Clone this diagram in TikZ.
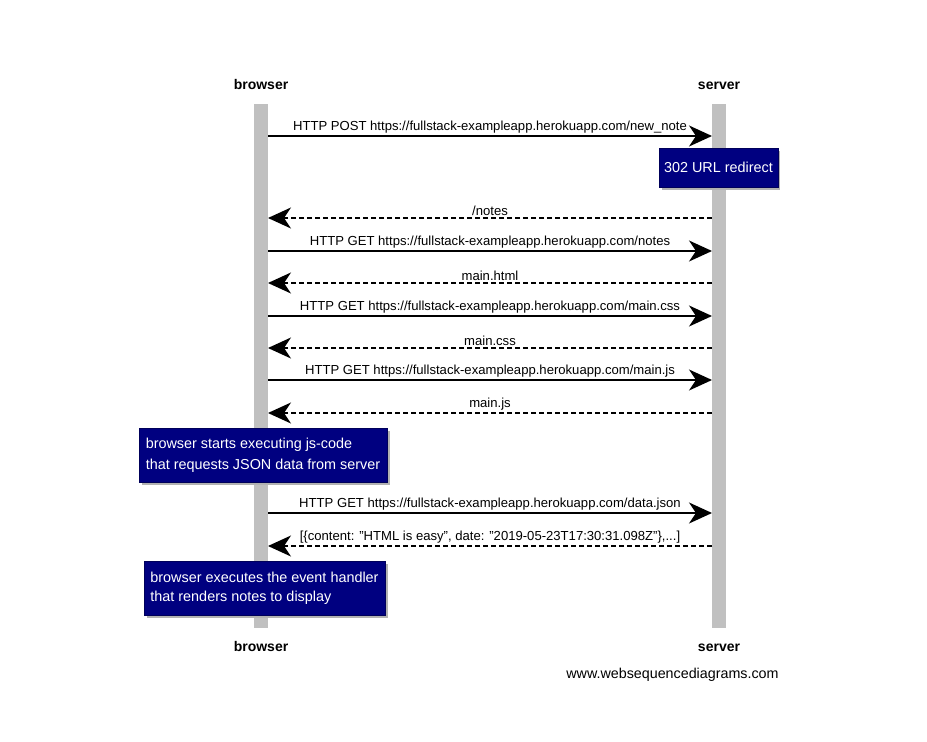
\documentclass[tikz,border=0pt]{standalone}
\usepackage{fontspec}
\setmainfont{Liberation Sans}
\usetikzlibrary{arrows.meta,shadows}
\definecolor{notefill}{HTML}{000080}
\definecolor{lifegray}{HTML}{C0C0C0}
\begin{document}
\begin{tikzpicture}[x=1pt,y=-1pt,
  actor/.style={font=\fontsize{14}{16}\selectfont\bfseries,anchor=base,inner sep=0pt},
  lifeline/.style={fill=lifegray,draw=none,minimum width=14pt,inner sep=0pt},
  msg/.style={line width=1.6pt,-{Stealth[length=23pt,width=21pt,inset=7pt]}},
  reply/.style={msg,dash pattern=on 5pt off 3pt},
  lbl/.style={font=\fontsize{13.1}{15}\selectfont,inner sep=1pt},
  notebox/.style={fill=notefill,draw=notefill!70!black,line width=0.6pt,text=white,
    font=\fontsize{14.4}{21}\selectfont,align=left,inner xsep=5pt,inner ysep=5pt,
    drop shadow={shadow xshift=2.5pt,shadow yshift=-2.5pt,fill=gray!60,opacity=1}}
]
\useasboundingbox (0,0) rectangle (927,742);
% lifelines
\node[lifeline,minimum height=524pt] (bl) at (261,366) {};
\node[lifeline,minimum height=524pt] (sl) at (719,366) {};
% actors
\node[actor] (bt) at (261,89) {browser};
\node[actor] (st) at (719,89) {server};
\node[actor] (bb) at (261,651) {browser};
\node[actor] (sb) at (719,651) {server};
% message endpoints
\foreach \n/\y in {1/136,2/218,3/251,4/283,5/316,6/348,7/380,8/413,9/513,10/546}{
  \coordinate (b\n) at (268,\y);
  \coordinate (s\n) at (712,\y);
}
\draw[msg] (b1) -- (s1) node[lbl,midway,above=1pt] (l1) {HTTP POST https://fullstack-exampleapp.herokuapp.com/new\_note};
\draw[reply] (s2) -- (b2) node[lbl,midway,above=1pt] (l2) {/notes};
\draw[msg] (b3) -- (s3) node[lbl,midway,above=1pt] (l3) {HTTP GET https://fullstack-exampleapp.herokuapp.com/notes};
\draw[reply] (s4) -- (b4) node[lbl,midway,above=1pt] (l4) {main.html};
\draw[msg] (b5) -- (s5) node[lbl,midway,above=1pt] (l5) {HTTP GET https://fullstack-exampleapp.herokuapp.com/main.css};
\draw[reply] (s6) -- (b6) node[lbl,midway,above=1pt] (l6) {main.css};
\draw[msg] (b7) -- (s7) node[lbl,midway,above=1pt] (l7) {HTTP GET https://fullstack-exampleapp.herokuapp.com/main.js};
\draw[reply] (s8) -- (b8) node[lbl,midway,above=1pt] (l8) {main.js};
\draw[msg] (b9) -- (s9) node[lbl,midway,above=1pt] (l9) {HTTP GET https://fullstack-exampleapp.herokuapp.com/data.json};
\draw[reply] (s10) -- (b10) node[lbl,midway,above=1pt] (l10) {[\{content: "HTML is easy", date: "2019-05-23T17:30:31.098Z"\},...]};
% notes
\node[notebox,minimum width=117pt,minimum height=39pt,align=center] (n1) at (718.5,167.5) {302 URL redirect};
\node[notebox,minimum width=248pt,minimum height=54pt] (n2) at (263,455.5) {browser starts executing js-code\\that requests JSON data from server};
\node[notebox,minimum width=241pt,minimum height=54pt,font=\fontsize{14.4}{19}\selectfont] (n3) at (264.5,588) {browser executes the event handler\\that renders notes to display};
% footer
\node[font=\fontsize{14.3}{16}\selectfont] (ft) at (672.5,675) {www.websequencediagrams.com};
\end{tikzpicture}
\end{document}
